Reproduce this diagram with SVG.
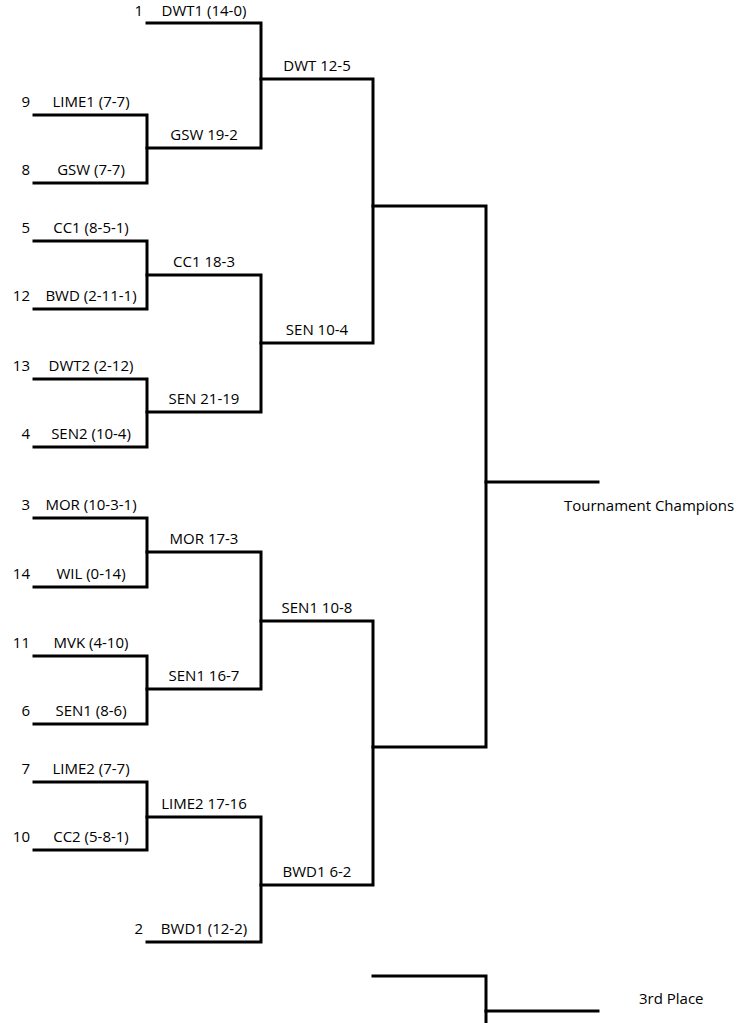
<svg xmlns="http://www.w3.org/2000/svg" width="750" height="1023" viewBox="0 0 750 1023">
<style>
.ln{fill:none;stroke:#000;stroke-width:3;stroke-linejoin:miter;stroke-linecap:square}
text{font-family:"Open Sans","Liberation Sans",sans-serif;font-size:15px;fill:#000}
.c{text-anchor:middle}
.r{text-anchor:end}
</style>
<rect width="750" height="1023" fill="#fff"/>
<g id="connectors">
<!-- round 1 -->
<path class="ln" d="M34,115 H147 V183 H34"/>
<path class="ln" d="M34,241 H147 V309 H34"/>
<path class="ln" d="M34,379 H147 V447 H34"/>
<path class="ln" d="M34,518 H147 V587 H34"/>
<path class="ln" d="M34,656 H147 V724 H34"/>
<path class="ln" d="M34,782 H147 V850 H34"/>
<!-- round 2 -->
<path class="ln" d="M147,23 H261 V148 H147"/>
<path class="ln" d="M147,275 H261 V412 H147"/>
<path class="ln" d="M147,552 H261 V689 H147"/>
<path class="ln" d="M147,817 H261 V942 H147"/>
<!-- round 3 -->
<path class="ln" d="M261,79 H373 V343 H261"/>
<path class="ln" d="M261,621 H373 V885 H261"/>
<!-- semis -->
<path class="ln" d="M373,206 H486 V747 H373"/>
<path class="ln" d="M486,482 H598"/>
<!-- 3rd place -->
<path class="ln" d="M373,976 H486 V1025"/>
<path class="ln" d="M486,1011 H598"/>
</g>
<g id="n1"><text class="r" x="143" y="16">1</text><text class="c" x="204" y="16">DWT1 (14-0)</text></g>
<g id="n9"><text class="r" x="30" y="107">9</text><text class="c" x="91" y="107">LIME1 (7-7)</text></g>
<g id="n8"><text class="r" x="30" y="175">8</text><text class="c" x="91" y="175">GSW (7-7)</text></g>
<g id="n5"><text class="r" x="30" y="233">5</text><text class="c" x="91" y="233">CC1 (8-5-1)</text></g>
<g id="n12"><text class="r" x="30" y="301">12</text><text class="c" x="91" y="301">BWD (2-11-1)</text></g>
<g id="n13"><text class="r" x="30" y="371">13</text><text class="c" x="91" y="371">DWT2 (2-12)</text></g>
<g id="n4"><text class="r" x="30" y="439">4</text><text class="c" x="91" y="439">SEN2 (10-4)</text></g>
<g id="n3"><text class="r" x="30" y="510">3</text><text class="c" x="91" y="510">MOR (10-3-1)</text></g>
<g id="n14"><text class="r" x="30" y="579">14</text><text class="c" x="91" y="579">WIL (0-14)</text></g>
<g id="n11"><text class="r" x="30" y="648">11</text><text class="c" x="91" y="648">MVK (4-10)</text></g>
<g id="n6"><text class="r" x="30" y="716">6</text><text class="c" x="91" y="716">SEN1 (8-6)</text></g>
<g id="n7"><text class="r" x="30" y="774">7</text><text class="c" x="91" y="774">LIME2 (7-7)</text></g>
<g id="n10"><text class="r" x="30" y="842">10</text><text class="c" x="91" y="842">CC2 (5-8-1)</text></g>
<g id="n2"><text class="r" x="143" y="934">2</text><text class="c" x="204" y="934">BWD1 (12-2)</text></g>
<g id="r2a"><text class="c" x="204" y="140">GSW 19-2</text></g>
<g id="r2b"><text class="c" x="204" y="267">CC1 18-3</text></g>
<g id="r2c"><text class="c" x="204" y="404">SEN 21-19</text></g>
<g id="r2d"><text class="c" x="204" y="544">MOR 17-3</text></g>
<g id="r2e"><text class="c" x="204" y="681">SEN1 16-7</text></g>
<g id="r2f"><text class="c" x="204" y="809">LIME2 17-16</text></g>
<g id="r3a"><text class="c" x="317" y="71">DWT 12-5</text></g>
<g id="r3b"><text class="c" x="317" y="335">SEN 10-4</text></g>
<g id="r3c"><text class="c" x="317" y="613">SEN1 10-8</text></g>
<g id="r3d"><text class="c" x="317" y="877">BWD1 6-2</text></g>
<g id="champ"><text x="564" y="511">Tournament Champions</text></g>
<g id="third"><text x="639" y="1004">3rd Place</text></g>
</svg>
